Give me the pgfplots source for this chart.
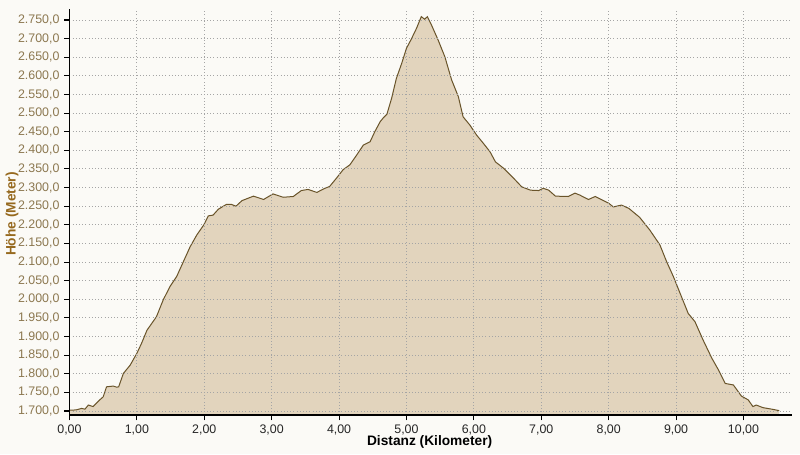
\documentclass[border=0pt]{standalone}
\usepackage{fontspec}
\setmainfont{Liberation Sans}
\usepackage{pgfplots}
\usepackage{pgfplotstable}
\pgfplotsset{compat=1.18}
\definecolor{bgc}{RGB}{251,250,246}
\definecolor{fillc}{RGB}{226,212,189}
\definecolor{linec}{RGB}{105,84,42}
\definecolor{gridc}{RGB}{165,165,165}
\definecolor{ytickc}{RGB}{140,120,80}
\definecolor{ylabc}{RGB}{150,105,30}
\pgfplotstableread{
x y
0 1702
0.10 1703
0.18 1707
0.23 1705
0.28 1716
0.35 1712
0.45 1730
0.50 1738
0.55 1765
0.65 1767
0.70 1764
0.73 1765
0.80 1801
0.90 1823
1.00 1855
1.07 1882
1.15 1917
1.22 1935
1.29 1953
1.39 1998
1.49 2034
1.59 2061
1.69 2101
1.79 2141
1.89 2173
1.99 2199
2.06 2224
2.13 2226
2.21 2242
2.33 2255
2.40 2255
2.47 2250
2.56 2265
2.73 2277
2.88 2268
3.02 2283
3.17 2274
3.32 2276
3.44 2292
3.54 2295
3.67 2287
3.79 2298
3.86 2303
3.96 2325
4.06 2348
4.16 2361
4.26 2387
4.36 2414
4.46 2423
4.53 2450
4.61 2477
4.66 2488
4.71 2497
4.78 2540
4.85 2593
4.93 2634
5.00 2674
5.07 2698
5.15 2728
5.22 2759
5.27 2752
5.31 2759
5.37 2737
5.47 2696
5.57 2651
5.67 2589
5.77 2544
5.84 2490
5.94 2468
6.04 2441
6.14 2419
6.24 2396
6.32 2369
6.44 2352
6.59 2325
6.71 2302
6.84 2293
6.96 2292
7.03 2298
7.11 2293
7.21 2277
7.40 2276
7.50 2285
7.57 2280
7.70 2268
7.80 2276
7.90 2267
8.00 2258
8.07 2248
8.19 2253
8.30 2244
8.46 2220
8.61 2186
8.76 2146
8.86 2101
8.96 2061
9.06 2016
9.18 1962
9.28 1940
9.40 1891
9.53 1842
9.63 1810
9.73 1774
9.85 1770
9.97 1740
10.07 1730
10.14 1712
10.19 1716
10.29 1709
10.42 1705
10.53 1701
}\profile
\begin{document}
\begin{tikzpicture}
\fill[bgc] (0,0) rectangle (600pt,340.5pt);
\useasboundingbox (0,0) rectangle (600pt,340.5pt);
\begin{axis}[
  at={(52.1pt,29.25pt)}, anchor=south west,
  scale only axis, width=541.9pt, height=304.5pt,
  xmin=0, xmax=10.72, ymin=1689.3, ymax=2779.5,
  axis x line*=bottom, axis y line*=left,
  x axis line style={black, line width=1.5pt, -},
  y axis line style={black, line width=1.1pt, -},
  xtick={0,1,...,10}, ytick={1700,1750,...,2750},
  scaled ticks=false,
  grid=major, major grid style={dotted, gridc, line width=0.7pt},
  axis on top,
  tick align=outside, major tick length=4pt,
  tick style={black, line width=0.8pt},
  /pgf/number format/assume math mode=true,
  xticklabel style={font=\fontsize{9.3}{10}\selectfont, text=black!85,
    /pgf/number format/.cd, use comma, fixed, fixed zerofill, precision=2},
  yticklabel style={font=\fontsize{9.3}{10}\selectfont, text=ytickc,
    /pgf/number format/.cd, use comma, fixed, fixed zerofill, precision=1},
  xlabel={Distanz (Kilometer)},
  ylabel={Höhe (Meter)},
  xlabel style={font=\fontsize{10.3}{11}\selectfont\bfseries, text=black,
    at={(axis description cs:0.4985,-0.066)}, anchor=center},
  ylabel style={font=\fontsize{10.3}{11}\selectfont\bfseries, text=ylabc,
    at={(axis description cs:-0.0796,0.495)}, anchor=center},
]
\addplot[fill=fillc, draw=none] table[x=x,y=y] {\profile} \closedcycle;
\addplot[linec, line width=0.75pt] table[x=x,y=y] {\profile};
\end{axis}
\end{tikzpicture}
\end{document}
